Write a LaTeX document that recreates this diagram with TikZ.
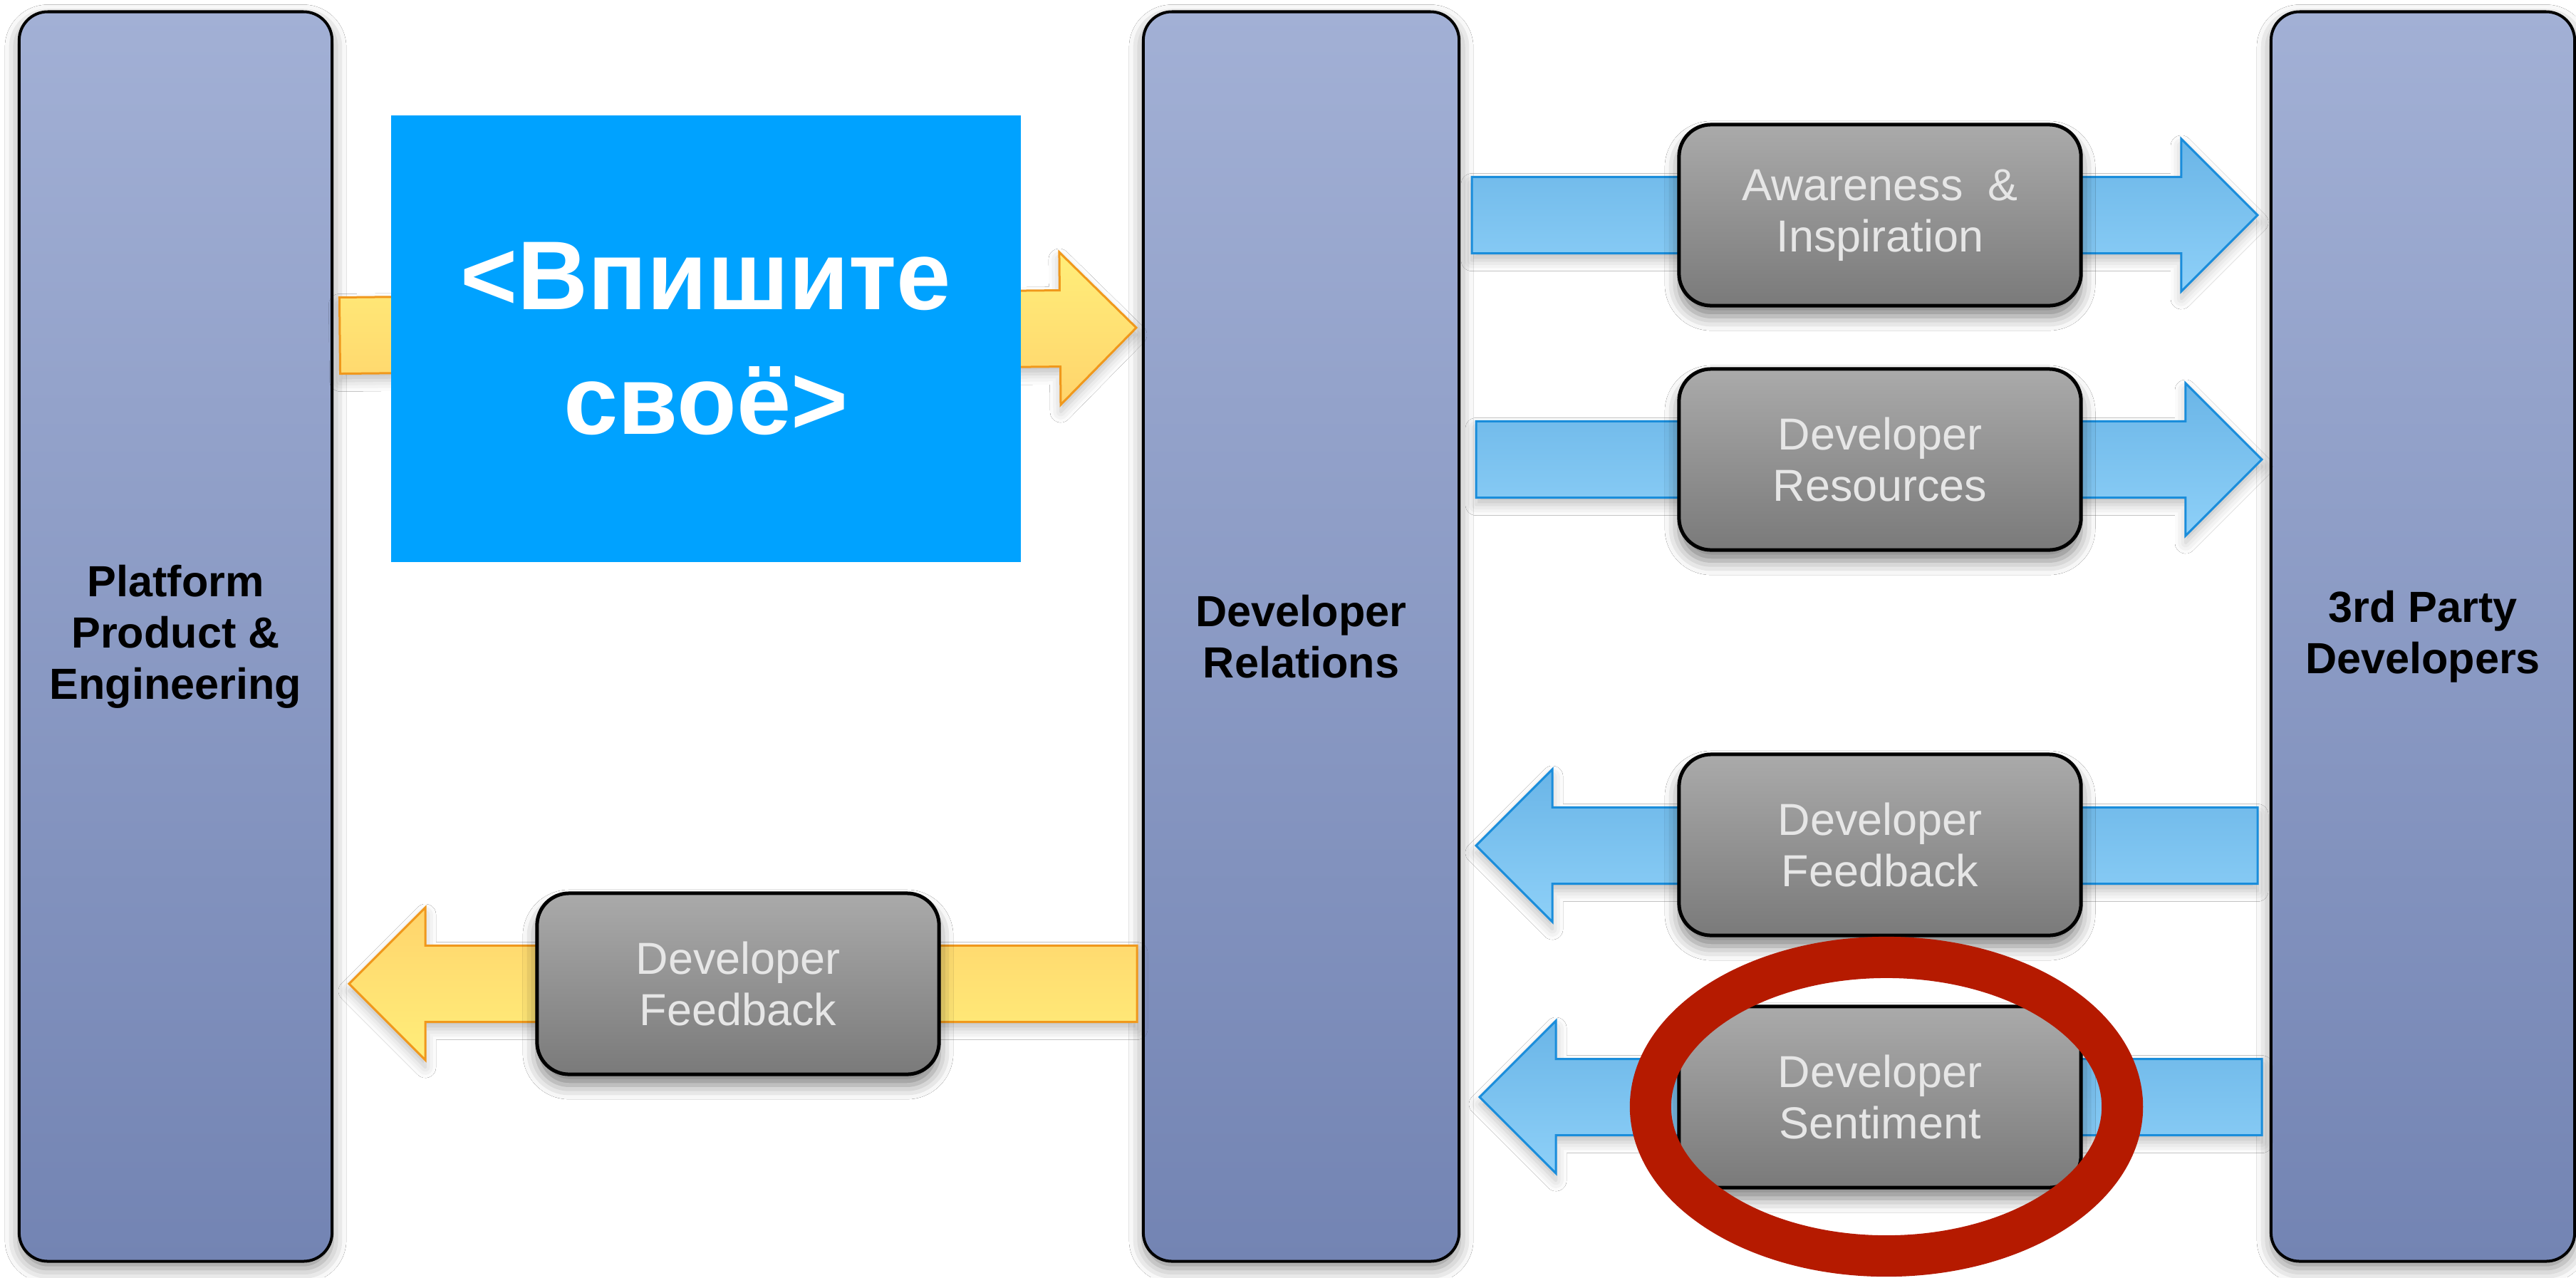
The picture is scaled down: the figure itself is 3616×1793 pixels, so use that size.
\documentclass[tikz,border=0pt]{standalone}
\usepackage{fontspec}
\setmainfont{Liberation Sans}
\usetikzlibrary{calc,shapes.geometric,shadows.blur}
\definecolor{panelTop}{HTML}{A2B0D5}
\definecolor{panelBot}{HTML}{7384B3}
\definecolor{boxTop}{HTML}{AAAAAA}
\definecolor{boxBot}{HTML}{7A7A7A}
\definecolor{blueA}{HTML}{6AB5E7}
\definecolor{blueB}{HTML}{8ED0F8}
\definecolor{blueEdge}{HTML}{1A8DDB}
\definecolor{yelA}{HTML}{FFEE7A}
\definecolor{yelB}{HTML}{FFD46C}
\definecolor{yelEdge}{HTML}{F0981C}
\definecolor{hiBlue}{HTML}{00A2FF}
\definecolor{ringRed}{HTML}{B51A00}
\definecolor{boxText}{HTML}{E6E6E6}
\tikzset{
  panel/.style={draw=black, line width=0.04cm, rounded corners=0.4cm,
    top color=panelTop, bottom color=panelBot, minimum height=17.53cm,
    inner sep=0pt, align=center, font=\bfseries\fontsize{17.4}{20.5}\selectfont,
    blur shadow={shadow xshift=0pt, shadow yshift=-0.1cm, shadow blur radius=0.2cm, shadow opacity=45}},
  graybox/.style={draw=black, line width=0.05cm, rounded corners=0.45cm,
    top color=boxTop, bottom color=boxBot, minimum width=5.64cm, minimum height=2.54cm,
    inner sep=0pt, align=center, text=boxText, font=\fontsize{17.9}{20.5}\selectfont,
    blur shadow={shadow xshift=0pt, shadow yshift=-0.15cm, shadow blur radius=0.2cm, shadow opacity=50}},
  arrowshadow/.style={blur shadow={shadow xshift=0pt, shadow yshift=-0.1cm, shadow blur radius=0.15cm, shadow opacity=25}},
  bluearrow/.style={draw=blueEdge, line width=0.03cm, top color=blueA, bottom color=blueB, arrowshadow},
  yellowdown/.style={draw=yelEdge, line width=0.03cm, top color=yelA, bottom color=yelB, arrowshadow},
  yellowup/.style={draw=yelEdge, line width=0.03cm, top color=yelB, bottom color=yelA, arrowshadow},
  highlight/.style={fill=hiBlue, minimum width=8.84cm, minimum height=6.27cm, inner sep=0pt,
    text=white, align=center, font=\bfseries\fontsize{39}{49.8}\selectfont},
  ring/.style={ellipse, draw=ringRed, line width=0.58cm, minimum width=6.62cm,
    minimum height=4.19cm, inner sep=0pt}
}
\newcommand\blockarrow[3]{%
  \coordinate (hb) at ($(#3)!1.07cm!(#2)$);
  \path[#1] ($(#2)!0.535cm!90:(#3)$) -- ($(hb)!0.535cm!90:(#3)$)
    -- ($(hb)!1.07cm!90:(#3)$) -- (#3) -- ($(hb)!1.07cm!-90:(#3)$)
    -- ($(hb)!0.535cm!-90:(#3)$) -- ($(#2)!0.535cm!-90:(#3)$) -- cycle;}
\begin{document}
\begin{tikzpicture}[x=0.01cm, y=-0.01cm]
\useasboundingbox[fill=white] (0,0) rectangle (3616,1793);
% panels
\node[panel, minimum width=4.39cm] (ppe) at (246.5,893.5) {Platform\\Product \&\\Engineering};
\node[panel, minimum width=4.43cm] (dr) at (1826.5,893.5) {Developer\\Relations};
\node[panel, minimum width=4.26cm] (tp) at (3401,893.5) {3rd Party\\Developers};
% arrow end points
\coordinate (a1s) at (2066,302); \coordinate (a1t) at (3169,302);
\coordinate (a2s) at (2072,645); \coordinate (a2t) at (3175,645);
\coordinate (a3s) at (3169,1187); \coordinate (a3t) at (2072,1187);
\coordinate (a4s) at (3175,1540); \coordinate (a4t) at (2077,1540);
\coordinate (y1s) at (477,471); \coordinate (y1t) at (1595,460);
\coordinate (y2s) at (1596,1381); \coordinate (y2t) at (490,1381);
\blockarrow{bluearrow}{a1s}{a1t}
\blockarrow{bluearrow}{a2s}{a2t}
\blockarrow{bluearrow}{a3s}{a3t}
\blockarrow{bluearrow}{a4s}{a4t}
\blockarrow{yellowdown}{y1s}{y1t}
\blockarrow{yellowup}{y2s}{y2t}
% highlight box
\node[highlight] (hl) at (991,475.5) {<Впишите\\своё>};
% gray boxes
\node[graybox] (aw) at (2639,302) {Awareness\ \ \&\\Inspiration};
\node[graybox] (res) at (2639,645) {Developer\\Resources};
\node[graybox] (fb) at (2639,1186) {Developer\\Feedback};
\node[graybox] (sent) at (2639,1540) {Developer\\Sentiment};
\node[graybox] (fb2) at (1036,1381) {Developer\\Feedback};
% red ring
\node[ring] (ring) at (2648,1553.5) {};
\end{tikzpicture}
\end{document}
